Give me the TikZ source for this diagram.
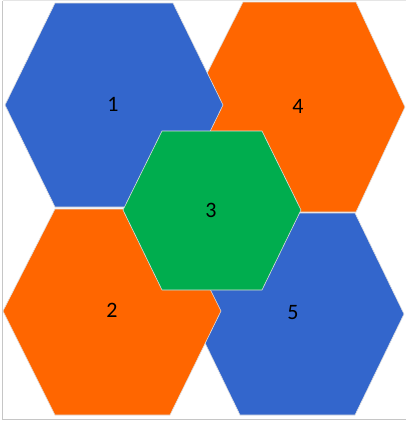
\documentclass[tikz,border=0pt]{standalone}
\usepackage{fontspec}
\setmainfont{Carlito}
\definecolor{hexblue}{HTML}{3366CC}
\definecolor{hexorange}{HTML}{FF6600}
\definecolor{hexgreen}{HTML}{00AD4E}
\tikzset{
  hexa/.style={draw=gray!25, line width=0.6pt, line join=miter},
  lbl/.style={font=\fontsize{22}{26}\selectfont, text=black, inner sep=0pt},
  frame/.style={draw=gray!45, line width=1pt}
}
\begin{document}
\begin{tikzpicture}[x=1pt,y=-1pt]
\useasboundingbox (0,0) rectangle (406,424);
\fill[white] (0,0) rectangle (406,424);
\draw[frame] (2.5,0.5) -- (2.5,419.5) -- (406,419.5);
\draw[draw=gray!20, line width=0.6pt] (2.5,0.5) -- (406,0.5);
% hexagon 4
\draw[hexa, fill=hexorange] (243,2) -- (356,2) -- (405,107) -- (356,212) -- (243,212) -- (190,107) -- cycle;
% hexagon 5
\draw[hexa, fill=hexblue] (240,213) -- (355,213) -- (404,314) -- (355,415) -- (240,415) -- (191,314) -- cycle;
% hexagon 1
\draw[hexa, fill=hexblue] (55,3) -- (173,3) -- (223,105) -- (173,207) -- (55,207) -- (5,105) -- cycle;
% hexagon 2
\draw[hexa, fill=hexorange] (55,209) -- (170,209) -- (221,311) -- (170,415) -- (55,415) -- (3,311) -- cycle;
% hexagon 3
\draw[hexa, fill=hexgreen] (162,131) -- (262,131) -- (301,210) -- (262,290) -- (162,290) -- (123,210) -- cycle;
\node[lbl] (l1) at (113,104) {1};
\node[lbl] (l2) at (112,310) {2};
\node[lbl] (l3) at (211,210) {3};
\node[lbl] (l4) at (298,106) {4};
\node[lbl] (l5) at (293,313) {5};
\end{tikzpicture}
\end{document}
